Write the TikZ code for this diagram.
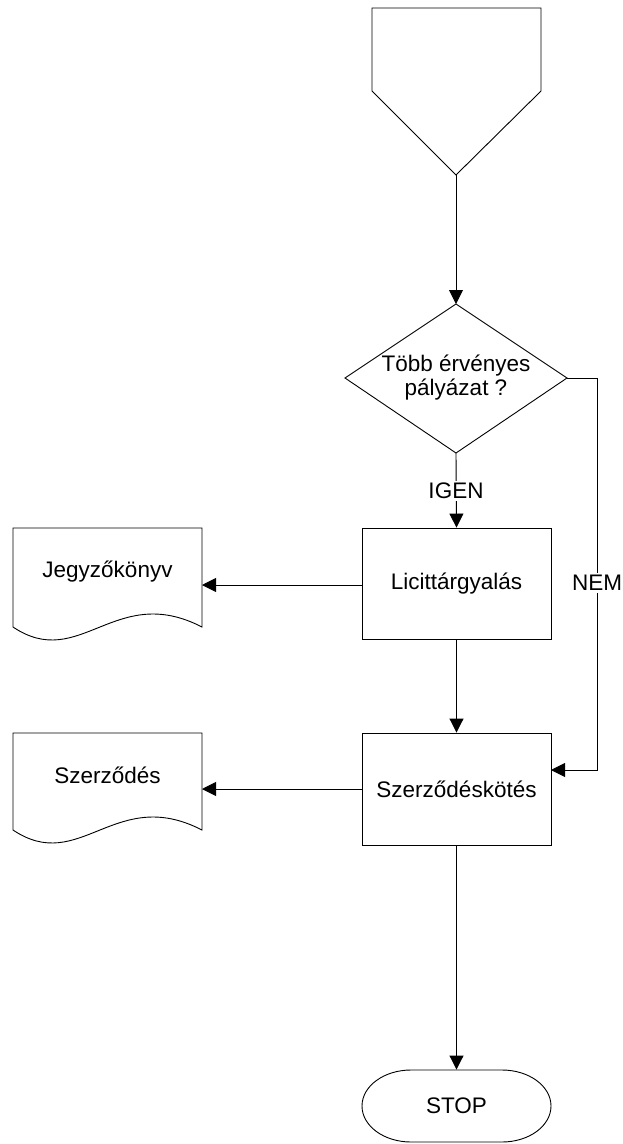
\documentclass[tikz,border=0pt]{standalone}
\usepackage{fontspec}
\setmainfont{Liberation Sans}
\usetikzlibrary{arrows.meta,calc}
\begin{document}
\begin{tikzpicture}[x=1pt,y=-1pt,
  line width=0.9pt,
  every node/.style={font=\fontsize{22.5}{24}\selectfont, inner sep=0pt},
  arr/.style={-{Triangle[length=14pt,width=14pt]}},
  procbox/.style={draw, minimum width=189pt, inner sep=0pt},
  lbl/.style={fill=white, inner sep=2pt}]
\useasboundingbox (0,0) rectangle (622,1144);

% start shape (off-page connector)
\draw (372,8) -- (541,8) -- (541,91) -- (456,175) -- (372,91) -- cycle;
\coordinate (src) at (456,175);

% decision
\coordinate (dT) at (456,304);
\coordinate (dB) at (456,453);
\coordinate (dL) at (345,378);
\coordinate (dR) at (567,378);
\draw (dT) -- (dR) -- (dB) -- (dL) -- cycle;
\node[align=center] (dec) at (456,378) {Több érvényes\\pályázat ?};

% process boxes
\node[procbox, minimum height=111pt] (lic) at (456.5,583.5) {Licittárgyalás};
\node[procbox, minimum height=112pt] (szk) at (456.5,789) {Szerződéskötés};

% terminal
\node[minimum width=189pt, minimum height=72pt] (stop) at (456.5,1106) {STOP};
\draw (411,1070) -- (502,1070)
  arc[start angle=-90, end angle=90, x radius=49, y radius=36]
  -- (411,1142)
  arc[start angle=90, end angle=270, x radius=49, y radius=36];

% documents
\draw (13,528) -- (202,528) -- (202,627)
  .. controls (115,582) and (80,672) .. (13,627) -- cycle;
\coordinate (jkR) at (202,585);
\node (jk) at (107.5,572) {Jegyzőkönyv};

\draw (13,733) -- (202,733) -- (202,830)
  .. controls (115,785) and (80,875) .. (13,830) -- cycle;
\coordinate (szR) at (202,789);
\node (sz) at (107.5,775) {Szerződés};

% connectors
\draw[arr] (src) -- (dT);
\draw[arr] (dB) -- (lic.north);
\draw[arr] (lic.west |- jkR) -- (jkR);
\draw[arr] (lic.south) -- (szk.north);
\coordinate (nemIn) at (551,770);
\draw[arr] (dR) -- (597,378) -- (597,770) -- (nemIn);
\draw[arr] (szk.west |- szR) -- (szR);
\draw[arr] (szk.south) -- (stop.north);

% connector labels
\node[lbl] (igen) at (456,491) {IGEN};
\node[lbl] (nem) at (597,583) {NEM};
\end{tikzpicture}
\end{document}
